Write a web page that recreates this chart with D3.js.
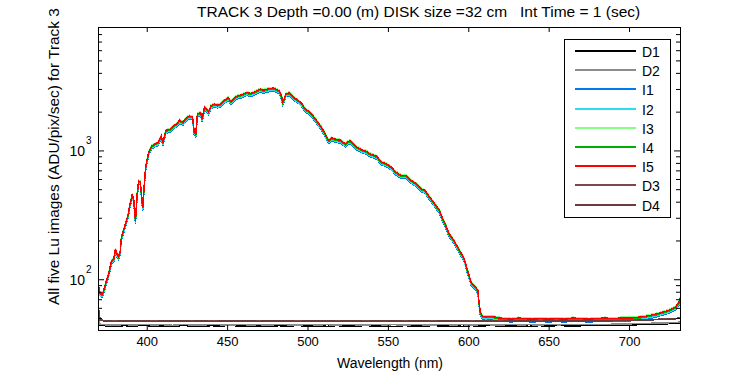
<!DOCTYPE html>
<html>
<head>
<meta charset="utf-8">
<script src="https://cdn.jsdelivr.net/npm/d3@7"></script>
<style>
body { margin: 0; background: #fff; }
svg text { font-family: "Liberation Sans", Arial, Helvetica, sans-serif; fill: #000; }
</style>
</head>
<body>
<svg id="chart" width="750" height="375"></svg>
<script>
// wavelength grid (nm) of the five Lu images
const waveI = [370, 371, 372, 373, 374, 375, 376.5, 378, 379.5, 380.5,
  381.5, 382.5, 383.5, 384.2, 385.5, 387, 388.5, 389.5, 391, 392,
  393, 394, 395, 396, 397.5, 398.5, 399.2, 400.2, 401.5, 403,
  405, 407, 409, 410, 412, 414.5, 416.5, 418.5, 420.5, 422.5,
  424.5, 426.5, 428.5, 429.5, 430.5, 431.5, 433.5, 434.5, 436, 438.5,
  440, 442, 444, 446, 448, 450.5, 452.5, 454.5, 456.5, 459,
  462.5, 464.5, 466.5, 468.5, 470.5, 472.5, 474.5, 476.5, 478.5, 480.5,
  482.5, 484, 484.5, 485.5, 486.5, 488.5, 490, 491.5, 494.5, 496.5,
  498.5, 500.5, 502.5, 504.5, 506.5, 508.5, 510.5, 512, 513.5, 515,
  516.5, 518.5, 520.5, 522, 523.5, 525, 526.5, 528.5, 530.5, 532.5,
  534.5, 536.5, 538.5, 541, 543, 546, 549, 552, 555, 558,
  561, 564.5, 567.5, 570.5, 573, 576, 579, 582, 584, 586,
  588, 591, 594.5, 597.5, 599.5, 602, 604.5, 606, 606.5, 607.5,
  609, 611, 613, 616, 619, 623, 627, 631, 635, 640,
  645, 650, 655, 660, 665, 670, 675, 680, 685, 690,
  695, 700, 705, 710, 715, 720, 725, 729, 731, 732];

// I5 (ADU/pix/sec)
const luI5 = [88, 78, 76, 80, 88, 98, 112, 138, 143, 172,
  157, 150, 165, 210, 238, 275, 320, 380, 455, 405,
  285, 455, 580, 570, 360, 550, 715, 850, 990, 1080,
  1120, 1150, 1290, 1150, 1430, 1460, 1545, 1600, 1715, 1650,
  1780, 1850, 1820, 1400, 1340, 1910, 1970, 1760, 2180, 2000,
  2220, 2290, 2250, 2290, 2420, 2570, 2400, 2560, 2650, 2700,
  2820, 2760, 2820, 2900, 2990, 2930, 2980, 3020, 3050, 2980,
  2900, 2600, 2360, 2500, 2740, 2800, 2700, 2570, 2430, 2300,
  2100, 2020, 1920, 1780, 1650, 1520, 1380, 1260, 1190, 1250,
  1230, 1210, 1200, 1160, 1120, 1170, 1190, 1120, 1060, 1030,
  1000, 985, 945, 920, 900, 811, 789, 742, 679, 640,
  640, 585, 552, 505, 490, 434, 386, 343, 296, 262,
  226, 200, 168, 144, 117, 93, 87, 82, 69, 55,
  51.5, 51, 51.5, 51, 50, 49.5, 49, 50, 49.5, 49,
  49.5, 49, 49.5, 49, 50, 49.5, 49, 49.5, 50, 49.5,
  50, 50, 50.5, 51.5, 53, 55, 57.5, 61, 66, 72];

// I1..I5 relative to I5 (the coloured fringes either side of the red)
const gainI = [0.95, 0.965, 1.015, 0.985, 1.0];

// dark frames
const waveD = [370, 371, 374, 380, 386, 392, 398, 404, 410, 416,
  422, 428, 434, 440, 446, 452, 458, 464, 470, 476,
  482, 488, 494, 500, 506, 512, 518, 524, 530, 536,
  542, 548, 554, 560, 566, 572, 578, 584, 590, 596,
  602, 608, 614, 620, 626, 632, 638, 644, 650, 656,
  662, 668, 674, 680, 686, 692, 698, 704, 710, 716,
  722, 728, 732];
const luD1 = [52.0, 44.2, 43.5, 43.1, 43.6, 43.3, 43.8, 43.2, 43.5, 43.0,
  43.7, 43.4, 43.1, 43.6, 43.3, 43.8, 43.2, 43.5, 43.4, 43.0,
  43.6, 43.3, 43.7, 43.2, 43.5, 43.1, 43.6, 43.4, 43.2, 43.7,
  43.3, 43.5, 43.0, 43.6, 43.4, 43.2, 43.7, 43.3, 43.5, 43.1,
  43.6, 43.3, 43.8, 43.2, 43.5, 43.4, 43.1, 43.6, 43.3, 43.7,
  43.4, 43.5, 43.6, 43.8, 43.7, 44.0, 44.1, 44.3, 44.5, 44.7,
  45.0, 45.3, 45.8];
const luD2 = [50.0, 44.8, 44.3, 44.0, 44.5, 44.1, 44.6, 44.2, 44.4, 43.9,
  44.5, 44.2, 44.0, 44.6, 44.3, 44.1, 44.5, 44.2, 44.4, 44.0,
  44.6, 44.3, 44.1, 44.5, 44.2, 44.4, 44.0, 44.6, 44.3, 44.1,
  44.5, 44.2, 44.4, 43.9, 44.5, 44.3, 44.1, 44.6, 44.2, 44.4,
  44.0, 44.5, 44.3, 44.1, 44.6, 44.2, 44.4, 44.1, 44.5, 44.3,
  44.4, 44.6, 44.5, 44.7, 44.6, 44.9, 45.0, 45.2, 45.4, 45.6,
  45.8, 46.1, 46.5];
const luD3 = [60.0, 48.5, 47.8, 47.4, 47.9, 47.5, 48.0, 47.3, 47.7, 47.5,
  47.9, 47.4, 47.8, 47.3, 47.6, 48.0, 47.5, 47.7, 47.4, 47.9,
  47.5, 47.8, 47.3, 47.7, 47.5, 47.9, 47.4, 47.6, 47.8, 47.3,
  47.7, 47.5, 47.9, 47.4, 47.6, 47.8, 47.3, 47.7, 47.5, 47.9,
  47.4, 47.6, 47.8, 47.4, 47.7, 47.5, 47.9, 47.4, 47.6, 47.8,
  47.5, 47.7, 47.6, 47.8, 47.7, 48.0, 48.1, 48.3, 48.5, 48.8,
  49.1, 49.5, 50.2];
const luD4 = [58.0, 48.0, 47.4, 47.1, 47.5, 47.2, 47.6, 47.0, 47.4, 47.2,
  47.5, 47.1, 47.6, 47.0, 47.3, 47.6, 47.2, 47.4, 47.1, 47.5,
  47.2, 47.5, 47.0, 47.4, 47.2, 47.6, 47.1, 47.3, 47.5, 47.0,
  47.4, 47.2, 47.6, 47.1, 47.3, 47.5, 47.0, 47.4, 47.2, 47.6,
  47.1, 47.3, 47.5, 47.1, 47.4, 47.2, 47.6, 47.1, 47.3, 47.5,
  47.2, 47.4, 47.3, 47.5, 47.4, 47.7, 47.8, 48.0, 48.2, 48.5,
  48.8, 49.2, 49.8];

const seriesNames = ["D1", "D2", "I1", "I2", "I3", "I4", "I5", "D3", "D4"];
const seriesColors = ["#000000", "#8c8c8c", "#0078f0", "#28def0", "#84ff84",
  "#00b000", "#ff0000", "#7c4848", "#6a3c3c"];

const xTicks = [400, 450, 500, 550, 600, 650, 700];
const yMajor = [100, 1000];
const yMinor = [50, 60, 70, 80, 90, 200, 300, 400, 500, 600, 700, 800, 900,
  2000, 3000, 4000, 5000, 6000, 7000, 8000];

const svg = d3.select('#chart');
const x = d3.scaleLinear().domain([370, 732]).range([98.5, 680.5]);
const y = d3.scaleLog().domain([40, 9000]).range([330.5, 27.5]);

// build the nine curves in legend order
let curves = {};
curves.D1 = waveD.map((w, k) => [w, luD1[k]]);
curves.D2 = waveD.map((w, k) => [w, luD2[k]]);
curves.D3 = waveD.map((w, k) => [w, luD3[k]]);
curves.D4 = waveD.map((w, k) => [w, luD4[k]]);
["I1", "I2", "I3", "I4", "I5"].forEach((n, j) => {
  curves[n] = waveI.map((w, k) => [w, luI5[k] * gainI[j]]);
});

svg.append('clipPath').attr('id', 'plotclip').append('rect')
  .attr('x', 98.5).attr('y', 27.5).attr('width', 582).attr('height', 303);

let line = d3.line().x(d => x(d[0])).y(d => y(d[1]));
let plot = svg.append('g').attr('clip-path', 'url(#plotclip)');
seriesNames.forEach((n, i) => {
  plot.append('path').datum(curves[n]).attr('d', line)
    .attr('fill', 'none').attr('stroke', seriesColors[i]).attr('stroke-width', 1.5)
    .attr('shape-rendering', 'crispEdges');
});

// axes, ticks pointing inwards on all four sides
let bottom = svg.append('g').attr('transform', 'translate(0,330)')
  .call(d3.axisBottom(x).tickValues(xTicks).tickSize(-5).tickSizeOuter(0).tickPadding(7).tickFormat(d3.format('d')));
bottom.attr('font-size', 13);
svg.append('g').attr('transform', 'translate(0,27)')
  .call(d3.axisTop(x).tickValues(xTicks).tickSize(-5).tickSizeOuter(0).tickFormat(''));

let left = svg.append('g').attr('transform', 'translate(98,0)')
  .call(d3.axisLeft(y).tickValues(yMajor).tickSize(-6).tickSizeOuter(0).tickFormat(''));
svg.append('g').attr('transform', 'translate(98,0)')
  .call(d3.axisLeft(y).tickValues(yMinor).tickSize(-4).tickSizeOuter(0).tickFormat(''));
svg.append('g').attr('transform', 'translate(680,0)')
  .call(d3.axisRight(y).tickValues(yMajor).tickSize(-6).tickSizeOuter(0).tickFormat(''));
svg.append('g').attr('transform', 'translate(680,0)')
  .call(d3.axisRight(y).tickValues(yMinor).tickSize(-4).tickSizeOuter(0).tickFormat(''));
svg.selectAll('.domain').remove();

left.selectAll('.tick').each(function (d) {
  let t = d3.select(this);
  t.append('text').attr('x', -13).attr('y', 5).attr('text-anchor', 'end')
    .attr('font-size', 14).text('10');
  t.append('text').attr('x', -12).attr('y', -7).attr('text-anchor', 'start')
    .attr('font-size', 10).text(Math.round(Math.log10(d)));
});

svg.append('rect').attr('x', 98.5).attr('y', 27.5).attr('width', 582).attr('height', 303)
  .attr('fill', 'none').attr('stroke', '#000').attr('shape-rendering', 'crispEdges');

// titles
svg.append('text').attr('x', 197).attr('y', 17).attr('font-size', 15.5)
  .style('white-space', 'pre')
  .text('TRACK 3 Depth =0.00 (m) DISK size =32 cm   Int Time = 1 (sec)');
svg.append('text').attr('x', 390).attr('y', 368).attr('font-size', 14)
  .attr('text-anchor', 'middle').text('Wavelength (nm)');
svg.append('text').attr('transform', 'translate(59,305) rotate(-90)')
  .attr('font-size', 15.4).text('All five Lu images (ADU/pix/sec) for Track 3');

// legend
let legend = svg.append('g');
legend.append('rect').attr('x', 564.5).attr('y', 39.5).attr('width', 106).attr('height', 178)
  .attr('fill', '#fff').attr('stroke', '#000').attr('shape-rendering', 'crispEdges');
seriesNames.forEach((n, i) => {
  let ly = Math.round(51 + i * 19.2);
  legend.append('line').attr('x1', 575).attr('x2', 636).attr('y1', ly).attr('y2', ly)
    .attr('stroke', seriesColors[i]).attr('stroke-width', 2)
    .attr('shape-rendering', 'crispEdges');
  legend.append('text').attr('x', 642).attr('y', ly + 6).attr('font-size', 14).text(n);
});
</script>
</body>
</html>
